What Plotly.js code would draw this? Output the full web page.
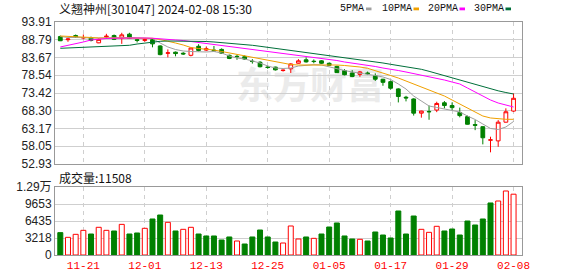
<!DOCTYPE html>
<html><head><meta charset="utf-8">
<script src="https://cdn.plot.ly/plotly-3.0.1.min.js"></script>
<style>html,body{margin:0;padding:0;background:#fff}#c{width:578px;height:276px}</style>
</head><body><div id="c"></div>
<script>
const dates = ['11-16','11-17','11-20','11-21','11-22','11-23','11-24','11-27','11-28','11-29','11-30',
 '12-01','12-04','12-05','12-06','12-07','12-08','12-11','12-12','12-13','12-14','12-15','12-18','12-19','12-20','12-21','12-22','12-25','12-26','12-27','12-28','12-29',
 '01-02','01-03','01-04','01-05','01-08','01-09','01-10','01-11','01-12','01-15','01-16','01-17','01-18','01-19','01-22','01-23','01-24','01-25','01-26','01-29','01-30','01-31',
 '02-01','02-02','02-05','02-06','02-07','02-08'];
const open  = [89.7,88.8,90.0,89.3,89.3,87.9,89.6,90.0,89.2,90.4,88.8,88.6,88.8,87.0,84.9,85.2,84.9,84.3,86.9,85.8,85.8,86.0,84.3,84.0,83.9,82.6,82.3,80.9,80.9,79.9,80.4,82.0,83.0,82.6,82.7,82.0,81.1,79.9,79.2,78.8,79.2,78.4,77.4,76.7,74.6,72.2,71.7,67.6,68.1,68.5,70.6,69.8,67.8,66.6,64.3,63.7,59.8,59.6,65.0,68.2];
const high  = [90.0,89.3,90.3,90.3,89.7,89.2,90.5,90.3,90.8,90.8,89.0,89.2,89.0,87.2,86.0,85.4,85.2,86.5,87.5,86.8,87.0,86.3,84.5,84.5,84.3,83.2,82.6,81.3,81.0,80.2,82.0,83.2,83.7,83.1,82.9,82.2,81.3,80.3,80.0,79.8,79.6,79.1,77.5,77.0,74.8,72.6,71.9,68.3,69.8,70.9,71.1,70.7,69.2,66.9,65.6,63.8,60.8,65.6,69.0,73.3];
const low   = [88.4,88.2,89.3,88.9,88.3,87.8,89.0,88.7,87.6,89.0,88.0,88.2,86.6,84.3,83.7,84.0,84.4,84.0,85.4,85.5,85.4,84.7,83.2,83.0,83.0,81.9,80.8,80.4,79.9,79.6,79.2,81.9,82.2,82.0,81.8,81.2,79.2,78.5,78.0,78.1,78.6,76.9,75.5,74.4,70.7,71.0,66.9,66.3,65.7,67.9,69.0,68.5,66.4,64.3,62.7,58.6,56.3,57.9,64.9,68.0];
const close = [88.5,89.0,89.5,89.4,88.6,88.9,89.8,88.9,90.2,89.2,88.6,88.8,87.6,84.5,85.0,84.8,84.7,86.4,85.7,86.2,85.6,84.9,83.4,83.9,83.2,82.5,81.0,80.8,80.1,80.0,81.8,82.7,82.4,82.5,82.0,81.4,79.3,78.7,78.2,79.5,79.0,77.4,76.5,74.8,72.4,72.0,67.6,68.2,68.0,70.4,69.8,69.2,66.9,64.4,64.1,60.5,59.9,65.0,68.0,71.9];
const ma5  = [89.73,89.44,89.44,89.29,89.29,89.29,89.35,89.44,89.44,89.44,89.35,89.29,89.15,87.85,86.70,85.97,85.54,85.40,85.25,85.25,85.40,84.96,84.10,83.52,83.23,82.65,82.08,81.21,80.63,80.49,80.63,81.21,81.50,81.59,81.50,80.92,80.49,79.91,79.48,79.19,78.90,78.47,78.04,77.32,76.02,74.57,72.55,71.11,69.67,69.24,68.80,68.51,67.94,66.78,65.77,64.47,63.18,62.89,63.61,65.20];
const ma10 = [89.87,89.81,89.73,89.58,89.44,89.29,89.29,89.29,89.29,89.29,89.29,89.29,89.21,88.86,88.43,87.85,87.27,86.55,86.26,86.12,85.83,85.40,84.96,84.53,84.10,83.66,83.38,82.94,82.51,82.08,81.64,81.50,81.50,81.64,81.64,81.64,81.50,81.36,81.21,80.92,80.55,79.91,79.19,78.47,77.75,76.88,76.02,75.15,74.29,73.42,72.55,71.40,70.25,69.09,67.94,66.78,66.21,65.92,65.83,65.83];
const ma20 = [86.70,87.13,87.56,88.14,88.72,89.00,89.15,89.23,89.29,89.29,89.29,89.29,89.23,89.00,88.86,88.72,88.57,88.28,88.14,87.85,87.56,87.27,86.98,86.70,86.41,85.97,85.69,85.40,85.11,84.82,84.53,84.24,83.95,83.66,83.38,83.09,82.80,82.37,82.08,81.79,81.50,81.07,80.63,80.35,79.91,79.48,79.05,78.61,78.04,77.60,77.17,76.59,76.02,74.86,73.71,72.55,71.40,70.53,69.96,69.38];
const ma30 = [86.32,86.41,86.55,86.70,86.78,86.78,86.84,86.90,86.98,87.19,87.56,87.85,88.14,88.34,88.43,88.43,88.43,88.37,88.34,88.28,88.14,87.99,87.79,87.62,87.42,87.19,86.90,86.61,86.32,86.03,85.74,85.45,85.16,84.88,84.53,84.24,83.95,83.66,83.38,83.09,82.66,82.37,82.08,81.70,81.36,81.07,80.69,80.26,79.68,79.05,78.38,77.66,77.03,76.45,75.87,75.24,74.63,74.05,73.56,73.13];
const volume = [4230,3345,3910,4670,3975,5240,4670,4545,5800,3975,4165,5050,6815,7570,6185,4545,4860,5240,3975,3600,3600,2840,3410,2650,2080,3410,4730,3410,2460,2270,5490,3030,3410,3155,3975,5300,6060,3600,3030,2970,2650,4355,3785,3220,8330,3975,7380,4860,4290,5430,4545,4920,3785,6435,5680,6815,9845,10220,12115,11508];
const volUp = [0,1,1,1,0,1,1,0,1,0,0,1,0,0,1,0,1,1,0,0,0,0,0,1,0,0,0,0,0,1,1,1,0,1,0,0,0,0,0,1,0,0,0,0,0,0,0,1,1,1,0,0,0,0,0,0,0,1,1,1];
const priceTicks = [52.93,58.05,63.17,68.30,73.42,78.54,83.67,88.79,93.91];
const priceTickText = ['52.93','58.05','63.17','68.30','73.42','78.54','83.67','88.79','93.91'];
const volTicks = [0,3218,6435,9653,12870];
const volTickText = ['0','3218','6435','9653','1.29万'];
const dateTicks = ['11-21','12-01','12-13','12-25','01-05','01-17','01-29','02-08'];
const maNames = ['5PMA','10PMA','20PMA','30PMA'];
const maColors = ['#a0a0a0','#f0a000','#ff00ff','#006f3a'];
const maData = [ma5, ma10, ma20, ma30];
const titleText = '义翘神州[301047] 2024-02-08 15:30';
const volLabel = '成交量:11508';

const UP = '#ff0000', DOWN = '#008000';
const L = 55, R = 522, T = 22, B = 255, W = 578, H = 276;
const px = v => (v - L) / (R - L);
const py = v => (B - v) / (B - T);

const traces = [{
  type: 'candlestick', x: dates, open: open, high: high, low: low, close: close,
  xaxis: 'x', yaxis: 'y', whiskerwidth: 0, hoverinfo: 'skip', showlegend: false,
  increasing: {line: {color: UP, width: 1}, fillcolor: '#ffffff'},
  decreasing: {line: {color: DOWN, width: 1}, fillcolor: DOWN}
}];
maData.forEach((d, k) => traces.push({
  type: 'scatter', mode: 'lines', x: dates, y: d, xaxis: 'x', yaxis: 'y',
  line: {color: maColors[k], width: 1}, hoverinfo: 'skip', showlegend: false
}));
traces.push({
  type: 'bar', x: dates, y: volume, xaxis: 'x2', yaxis: 'y2', hoverinfo: 'skip', showlegend: false,
  marker: {color: volUp.map(u => u ? '#ffffff' : DOWN), line: {color: volUp.map(u => u ? UP : DOWN), width: 1}}
});

const tickFont = {family: 'Liberation Sans, Arial, Noto Sans CJK SC', size: 12, color: '#222'};
const xCommon = {
  type: 'category', categoryorder: 'array', categoryarray: dates, range: [-0.69, 60.1],
  tickvals: dateTicks, showgrid: true, gridcolor: '#cfcfcf', griddash: '4px,4px', gridwidth: 1,
  showline: true, mirror: true, linecolor: '#999', linewidth: 1, ticks: '', zeroline: false,
  fixedrange: true
};
const yCommon = {
  showgrid: true, gridcolor: '#cfcfcf', gridwidth: 1, showline: true, mirror: true,
  linecolor: '#999', linewidth: 1, ticks: '', zeroline: false, tickfont: tickFont, fixedrange: true
};

const annotations = [
  {text: titleText, xref: 'paper', yref: 'paper', x: px(57), y: py(9), xanchor: 'left', yanchor: 'middle',
   showarrow: false, font: {family: 'Noto Sans CJK SC', size: 12, color: '#111'}},
  {text: volLabel, xref: 'paper', yref: 'paper', x: px(57), y: py(177), xanchor: 'left', yanchor: 'middle',
   showarrow: false, font: {family: 'Noto Sans CJK SC', size: 12, color: '#111'}}
];
const legX = [338, 380, 426, 472];
const sqX = [366, 413.5, 459.5, 505.5];
const shapes = [];
maNames.forEach((n, k) => {
  annotations.push({text: n, xref: 'paper', yref: 'paper', x: px(legX[k]), y: py(9), xanchor: 'left', yanchor: 'middle',
    showarrow: false, font: {family: 'Liberation Mono, monospace', size: 10, color: '#111'}});
  shapes.push({type: 'rect', xref: 'paper', yref: 'paper', x0: px(sqX[k]), x1: px(sqX[k] + 5.5), y0: py(10.3), y1: py(7.5),
    fillcolor: maColors[k], line: {width: 0}});
});
shapes.push({type: 'rect', xref: 'paper', yref: 'paper', layer: 'below', x0: px(238), x1: px(382), y0: py(112), y1: py(66),
  line: {width: 0}, fillcolor: 'rgba(0,0,0,0)',
  label: {text: '东方财富', font: {family: 'Noto Sans CJK SC', size: 37, color: '#ebebeb', weight: 'bold'}, textposition: 'middle center'}});

const layout = {
  width: W, height: H, margin: {l: L, r: W - R, t: T, b: H - B, pad: 0},
  paper_bgcolor: '#fff', plot_bgcolor: '#fff', showlegend: false, bargap: 0.35, boxgap: 0.3,
  xaxis: Object.assign({}, xCommon, {anchor: 'y', showticklabels: false, rangeslider: {visible: false}}),
  xaxis2: Object.assign({}, xCommon, {anchor: 'y2', showticklabels: true,
    tickfont: {family: 'Liberation Mono, monospace', size: 11, color: '#ff0000'}}),
  yaxis: Object.assign({}, yCommon, {domain: [py(164), 1], range: [52.93, 93.91], tickvals: priceTicks, ticktext: priceTickText}),
  yaxis2: Object.assign({}, yCommon, {domain: [0, py(187)], range: [0, 12870], tickvals: volTicks, ticktext: volTickText}),
  annotations: annotations, shapes: shapes
};
Plotly.newPlot('c', traces, layout, {displayModeBar: false, staticPlot: true});
</script></body></html>
